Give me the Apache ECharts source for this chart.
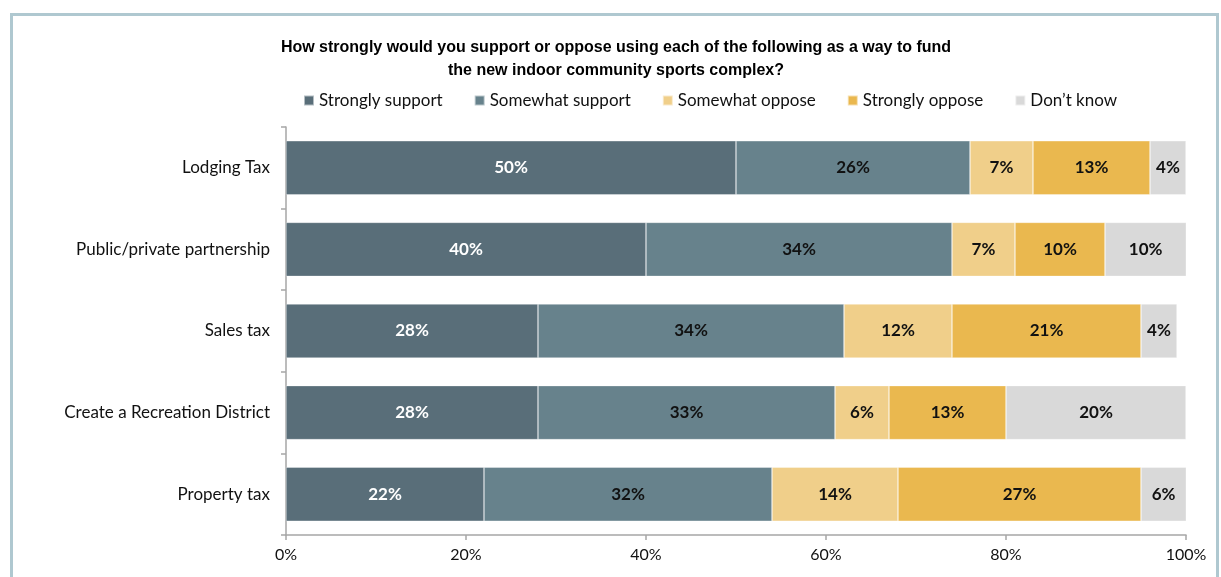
<!DOCTYPE html>
<html>
<head>
<meta charset="utf-8">
<script src="https://cdn.jsdelivr.net/npm/echarts@6/dist/echarts.min.js"></script>
<style>
  html, body { margin: 0; padding: 0; background: #ffffff; }
  #chart { width: 1221px; height: 577px; }
</style>
</head>
<body>
<div id="chart"></div>
<script>
// Funding options, top to bottom
const categories = [
  'Lodging Tax',
  'Public/private partnership',
  'Sales tax',
  'Create a Recreation District',
  'Property tax'
];

// Percent of respondents per answer
const stronglySupport = [50, 40, 28, 28, 22];
const somewhatSupport = [26, 34, 34, 33, 32];
const somewhatOppose  = [7, 7, 12, 6, 14];
const stronglyOppose  = [13, 10, 21, 13, 27];
const dontKnow        = [4, 10, 4, 20, 6];

const seriesNames = ['Strongly support', 'Somewhat support', 'Somewhat oppose', 'Strongly oppose', 'Don\u2019t know'];
const xTicks = [0, 20, 40, 60, 80, 100];

const colors = ['#596e79', '#67828c', '#f0cf8a', '#eab84f', '#d9d9d9'];
const labelColors = ['#ffffff', '#111111', '#111111', '#111111', '#111111'];
const values = [stronglySupport, somewhatSupport, somewhatOppose, stronglyOppose, dontKnow];

const FONT = 'Lato, "Noto Sans", sans-serif';

const chart = echarts.init(document.getElementById('chart'), null, { renderer: 'canvas' });

const series = seriesNames.map((name, i) => ({
  name: name,
  type: 'bar',
  stack: 'total',
  barWidth: 54,
  data: values[i],
  itemStyle: {
    color: colors[i],
    borderColor: 'rgba(255,255,255,0.55)',
    borderWidth: 0.6
  },
  label: {
    show: true,
    position: 'inside',
    formatter: p => p.value + '%',
    color: labelColors[i],
    fontFamily: FONT,
    fontWeight: 'bold',
    fontSize: 17
  },
  emphasis: { disabled: true }
}));

chart.setOption({
  animation: false,
  backgroundColor: '#ffffff',
  color: colors,
  title: {
    text: 'How strongly would you support or oppose using each of the following as a way to fund\nthe new indoor community sports complex?',
    left: 611,
    top: 31,
    textAlign: 'center',
    textStyle: {
      fontFamily: '"Liberation Sans", Arial, sans-serif',
      fontWeight: 'bold',
      fontSize: 16,
      lineHeight: 23,
      color: '#000000',
      align: 'center'
    }
  },
  legend: {
    data: seriesNames,
    top: 87,
    left: 298,
    icon: 'rect',
    itemWidth: 10,
    itemHeight: 10,
    itemGap: 31,
    selectedMode: false,
    textStyle: {
      fontFamily: FONT,
      fontSize: 17,
      color: '#111111'
    }
  },
  grid: {
    left: 286,
    right: 35,
    top: 127,
    bottom: 42,
    containLabel: false
  },
  xAxis: {
    type: 'value',
    min: 0,
    max: 100,
    interval: 20,
    axisLine: { show: true, lineStyle: { color: '#a6a6a6', width: 1.5 } },
    axisTick: { show: true, length: 5, lineStyle: { color: '#a6a6a6', width: 1.5 } },
    splitLine: { show: false },
    axisLabel: {
      margin: 12,
      fontFamily: FONT,
      fontSize: 16,
      color: '#111111',
      formatter: v => (xTicks.indexOf(v) >= 0 ? v + '%' : '')
    }
  },
  yAxis: {
    type: 'category',
    inverse: true,
    data: categories,
    axisLine: { show: true, lineStyle: { color: '#a6a6a6', width: 1.5 } },
    axisTick: { show: true, length: 5, lineStyle: { color: '#a6a6a6', width: 1.5 } },
    axisLabel: {
      margin: 16,
      fontFamily: FONT,
      fontSize: 17,
      color: '#111111'
    }
  },
  graphic: [{
    type: 'rect',
    left: 9,
    top: 12,
    shape: { width: 1206, height: 620 },
    style: { fill: 'none', stroke: '#afc8d0', lineWidth: 3 },
    silent: true
  }],
  series: series
});
</script>
</body>
</html>
